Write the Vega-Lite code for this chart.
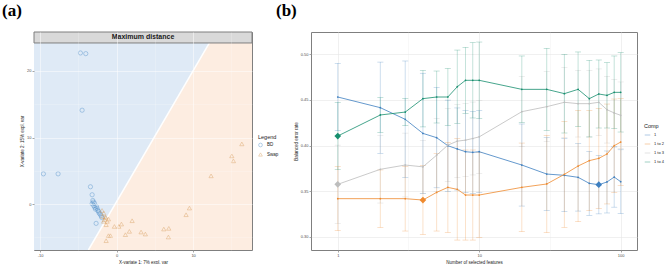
{
  "$schema": "https://vega.github.io/schema/vega-lite/v6.json",
  "padding": {"left": 1, "top": 1, "right": 0, "bottom": 0},
  "background": "white",
  "config": {
    "font": "Liberation Sans",
    "view": {"stroke": "#7f7f7f", "strokeWidth": 1},
    "axis": {"domain": false, "labelFontSize": 4, "titleFontSize": 4.5, "labelColor": "#4d4d4d", "titleColor": "#1a1a1a", "tickColor": "#4d4d4d", "tickSize": 2, "tickWidth": 0.5, "labelPadding": 1, "titlePadding": 2, "titleFontWeight": "normal"},
    "title": {"font": "Liberation Serif", "fontSize": 17, "fontWeight": "bold", "color": "#000000"}
  },
  "datasets": {
    "region": [
      {"y": -6.9, "xmin": -10.8, "xb": -3.69, "xmax": 17.7},
      {"y": 24.2, "xmin": -10.8, "xb": 12.13, "xmax": 17.7}
    ],
    "strip": [
      {"label": "Maximum distance", "x1": -10.8, "x2": 17.7, "y1": 24.2, "y2": 25.85, "ymid": 25.03}
    ],
    "pts": [
      {"x": -4.73, "y": 22.7, "group": "BD"},
      {"x": -4.03, "y": 22.6, "group": "BD"},
      {"x": -4.51, "y": 14.1, "group": "BD"},
      {"x": -9.57, "y": 4.54, "group": "BD"},
      {"x": -7.65, "y": 4.54, "group": "BD"},
      {"x": -3.42, "y": 2.6, "group": "BD"},
      {"x": -3.2, "y": 1.4, "group": "BD"},
      {"x": -3.11, "y": 0.54, "group": "BD"},
      {"x": -3.2, "y": 0.05, "group": "BD"},
      {"x": -2.9, "y": 0.15, "group": "BD"},
      {"x": -2.98, "y": -0.25, "group": "BD"},
      {"x": -2.64, "y": -0.35, "group": "BD"},
      {"x": -2.77, "y": -0.75, "group": "BD"},
      {"x": -2.46, "y": -0.96, "group": "BD"},
      {"x": -2.29, "y": -1.35, "group": "BD"},
      {"x": -2.03, "y": -1.75, "group": "BD"},
      {"x": -2.68, "y": -2.9, "group": "BD"},
      {"x": -3.05, "y": 0.3, "group": "BD"},
      {"x": -2.85, "y": -0.5, "group": "BD"},
      {"x": -2.55, "y": -0.65, "group": "BD"},
      {"x": -2.35, "y": -1.1, "group": "BD"},
      {"x": -2.15, "y": -1.5, "group": "BD"},
      {"x": -1.95, "y": -2.0, "group": "BD"},
      {"x": 16.37, "y": 9.04, "group": "Swap"},
      {"x": 15.06, "y": 7.24, "group": "Swap"},
      {"x": 15.27, "y": 6.49, "group": "Swap"},
      {"x": 12.35, "y": 4.24, "group": "Swap"},
      {"x": 9.52, "y": -0.6, "group": "Swap"},
      {"x": 9.08, "y": -1.6, "group": "Swap"},
      {"x": 6.82, "y": -3.65, "group": "Swap"},
      {"x": 6.17, "y": -3.75, "group": "Swap"},
      {"x": 6.77, "y": -4.95, "group": "Swap"},
      {"x": 3.2, "y": -4.2, "group": "Swap"},
      {"x": 3.76, "y": -4.5, "group": "Swap"},
      {"x": 2.03, "y": -2.5, "group": "Swap"},
      {"x": 1.67, "y": -4.1, "group": "Swap"},
      {"x": 1.15, "y": -4.6, "group": "Swap"},
      {"x": 0.63, "y": -3.0, "group": "Swap"},
      {"x": 0.29, "y": -3.36, "group": "Swap"},
      {"x": -0.29, "y": -3.36, "group": "Swap"},
      {"x": -1.07, "y": -4.75, "group": "Swap"},
      {"x": -1.37, "y": -5.5, "group": "Swap"},
      {"x": -0.81, "y": -4.75, "group": "Swap"},
      {"x": -1.9, "y": -0.96, "group": "Swap"},
      {"x": -1.67, "y": -1.35, "group": "Swap"},
      {"x": -1.8, "y": -1.86, "group": "Swap"},
      {"x": -1.5, "y": -1.95, "group": "Swap"},
      {"x": -1.6, "y": -2.35, "group": "Swap"},
      {"x": -1.24, "y": -2.6, "group": "Swap"},
      {"x": -1.37, "y": -3.1, "group": "Swap"},
      {"x": -1.07, "y": -2.25, "group": "Swap"},
      {"x": -1.4, "y": -2.0, "group": "Swap"},
      {"x": -1.7, "y": -2.6, "group": "Swap"}
    ],
    "perf": [
      {"comp": "1", "features": 1, "mean": 0.4532, "sd": 0.037},
      {"comp": "1", "features": 2, "mean": 0.4415, "sd": 0.050},
      {"comp": "1", "features": 3, "mean": 0.4287, "sd": 0.064},
      {"comp": "1", "features": 4, "mean": 0.4133, "sd": 0.066},
      {"comp": "1", "features": 5, "mean": 0.4086, "sd": 0.055},
      {"comp": "1", "features": 6, "mean": 0.3998, "sd": 0.050},
      {"comp": "1", "features": 7, "mean": 0.3962, "sd": 0.045},
      {"comp": "1", "features": 8, "mean": 0.3932, "sd": 0.045},
      {"comp": "1", "features": 9, "mean": 0.3925, "sd": 0.045},
      {"comp": "1", "features": 10, "mean": 0.3932, "sd": 0.045},
      {"comp": "1", "features": 20, "mean": 0.3786, "sd": 0.045},
      {"comp": "1", "features": 30, "mean": 0.3687, "sd": 0.040},
      {"comp": "1", "features": 40, "mean": 0.3673, "sd": 0.040},
      {"comp": "1", "features": 50, "mean": 0.3651, "sd": 0.037},
      {"comp": "1", "features": 60, "mean": 0.3585, "sd": 0.035},
      {"comp": "1", "features": 70, "mean": 0.3570, "sd": 0.032},
      {"comp": "1", "features": 80, "mean": 0.3600, "sd": 0.034},
      {"comp": "1", "features": 90, "mean": 0.3654, "sd": 0.033},
      {"comp": "1", "features": 100, "mean": 0.3603, "sd": 0.035},
      {"comp": "1 to 2", "features": 1, "mean": 0.3417, "sd": 0.0351},
      {"comp": "1 to 2", "features": 2, "mean": 0.3417, "sd": 0.0315},
      {"comp": "1 to 2", "features": 3, "mean": 0.3417, "sd": 0.0355},
      {"comp": "1 to 2", "features": 4, "mean": 0.3402, "sd": 0.0377},
      {"comp": "1 to 2", "features": 5, "mean": 0.3486, "sd": 0.0424},
      {"comp": "1 to 2", "features": 6, "mean": 0.3541, "sd": 0.0494},
      {"comp": "1 to 2", "features": 7, "mean": 0.3519, "sd": 0.0556},
      {"comp": "1 to 2", "features": 8, "mean": 0.3457, "sd": 0.0494},
      {"comp": "1 to 2", "features": 9, "mean": 0.3457, "sd": 0.0494},
      {"comp": "1 to 2", "features": 10, "mean": 0.3457, "sd": 0.0464},
      {"comp": "1 to 2", "features": 20, "mean": 0.3541, "sd": 0.0486},
      {"comp": "1 to 2", "features": 30, "mean": 0.3578, "sd": 0.0534},
      {"comp": "1 to 2", "features": 40, "mean": 0.3684, "sd": 0.0581},
      {"comp": "1 to 2", "features": 50, "mean": 0.3775, "sd": 0.0611},
      {"comp": "1 to 2", "features": 60, "mean": 0.3834, "sd": 0.0548},
      {"comp": "1 to 2", "features": 70, "mean": 0.3859, "sd": 0.0548},
      {"comp": "1 to 2", "features": 80, "mean": 0.3907, "sd": 0.0548},
      {"comp": "1 to 2", "features": 90, "mean": 0.3998, "sd": 0.0512},
      {"comp": "1 to 2", "features": 100, "mean": 0.4038, "sd": 0.0475},
      {"comp": "1 to 3", "features": 1, "mean": 0.3574, "sd": 0.043},
      {"comp": "1 to 3", "features": 2, "mean": 0.3739, "sd": 0.037},
      {"comp": "1 to 3", "features": 3, "mean": 0.3786, "sd": 0.035},
      {"comp": "1 to 3", "features": 4, "mean": 0.3766, "sd": 0.029},
      {"comp": "1 to 3", "features": 5, "mean": 0.3894, "sd": 0.040},
      {"comp": "1 to 3", "features": 6, "mean": 0.4004, "sd": 0.040},
      {"comp": "1 to 3", "features": 7, "mean": 0.4048, "sd": 0.040},
      {"comp": "1 to 3", "features": 8, "mean": 0.4059, "sd": 0.040},
      {"comp": "1 to 3", "features": 9, "mean": 0.4077, "sd": 0.040},
      {"comp": "1 to 3", "features": 10, "mean": 0.4095, "sd": 0.040},
      {"comp": "1 to 3", "features": 20, "mean": 0.4371, "sd": 0.0384},
      {"comp": "1 to 3", "features": 30, "mean": 0.4426, "sd": 0.0384},
      {"comp": "1 to 3", "features": 40, "mean": 0.4474, "sd": 0.0384},
      {"comp": "1 to 3", "features": 50, "mean": 0.4459, "sd": 0.0366},
      {"comp": "1 to 3", "features": 60, "mean": 0.4459, "sd": 0.0366},
      {"comp": "1 to 3", "features": 70, "mean": 0.4474, "sd": 0.0366},
      {"comp": "1 to 3", "features": 80, "mean": 0.4393, "sd": 0.0366},
      {"comp": "1 to 3", "features": 90, "mean": 0.4357, "sd": 0.0366},
      {"comp": "1 to 3", "features": 100, "mean": 0.4331, "sd": 0.0366},
      {"comp": "1 to 4", "features": 1, "mean": 0.4104, "sd": 0.037},
      {"comp": "1 to 4", "features": 2, "mean": 0.4335, "sd": 0.019},
      {"comp": "1 to 4", "features": 3, "mean": 0.4367, "sd": 0.015},
      {"comp": "1 to 4", "features": 4, "mean": 0.4514, "sd": 0.031},
      {"comp": "1 to 4", "features": 5, "mean": 0.4532, "sd": 0.0285},
      {"comp": "1 to 4", "features": 6, "mean": 0.4532, "sd": 0.0314},
      {"comp": "1 to 4", "features": 7, "mean": 0.4645, "sd": 0.0402},
      {"comp": "1 to 4", "features": 8, "mean": 0.4715, "sd": 0.0362},
      {"comp": "1 to 4", "features": 9, "mean": 0.4715, "sd": 0.0413},
      {"comp": "1 to 4", "features": 10, "mean": 0.4715, "sd": 0.0420},
      {"comp": "1 to 4", "features": 20, "mean": 0.4616, "sd": 0.0366},
      {"comp": "1 to 4", "features": 30, "mean": 0.4616, "sd": 0.0450},
      {"comp": "1 to 4", "features": 40, "mean": 0.4569, "sd": 0.0431},
      {"comp": "1 to 4", "features": 50, "mean": 0.4616, "sd": 0.0410},
      {"comp": "1 to 4", "features": 60, "mean": 0.4514, "sd": 0.0420},
      {"comp": "1 to 4", "features": 70, "mean": 0.4565, "sd": 0.0373},
      {"comp": "1 to 4", "features": 80, "mean": 0.4550, "sd": 0.0358},
      {"comp": "1 to 4", "features": 90, "mean": 0.4583, "sd": 0.0399},
      {"comp": "1 to 4", "features": 100, "mean": 0.4583, "sd": 0.0435}
    ],
    "opt": [
      {"comp": "1", "features": 70, "mean": 0.3570},
      {"comp": "1 to 2", "features": 4, "mean": 0.3402},
      {"comp": "1 to 3", "features": 1, "mean": 0.3574},
      {"comp": "1 to 4", "features": 1, "mean": 0.4104}
    ]
  },
  "bounds": "flush",
  "spacing": 59,
  "resolve": {"scale": {"color": "independent", "shape": "independent"}, "legend": {"color": "independent", "shape": "independent"}},
  "hconcat": [
    {
      "title": {"text": "(a)", "anchor": "start", "frame": "group", "dx": -32, "offset": 12},
      "width": 218,
      "height": 218,
      "layer": [
        {
          "data": {"name": "region"},
          "mark": {"type": "area", "orient": "horizontal", "color": "#dfeaf6", "clip": true},
          "encoding": {
            "y": {"field": "y", "type": "quantitative", "scale": {"domain": [-6.9, 25.85], "nice": false, "zero": false},
              "axis": {"title": "X-variate 2: 15% expl. var", "values": [-5, 0, 5, 10, 15, 20], "zindex": 1,
                "labelExpr": "datum.value % 10 == 0 ? '' + datum.value : ''",
                "tickOpacity": {"condition": {"test": "datum.value % 10 == 0", "value": 1}, "value": 0},
                "grid": true, "gridColor": "#ffffff",
                "gridOpacity": {"condition": {"test": "datum.value % 10 == 0", "value": 0.7}, "value": 0.5},
                "gridWidth": {"condition": {"test": "datum.value % 10 == 0", "value": 0.7}, "value": 0.4}}},
            "x": {"field": "xmin", "type": "quantitative", "scale": {"domain": [-10.8, 17.7], "nice": false, "zero": false},
              "axis": {"title": "X-variate 1: 7% expl. var", "values": [-10, -5, 0, 5, 10, 15], "zindex": 1,
                "labelExpr": "datum.value % 10 == 0 ? '' + datum.value : ''",
                "tickOpacity": {"condition": {"test": "datum.value % 10 == 0", "value": 1}, "value": 0},
                "grid": true, "gridColor": "#ffffff",
                "gridOpacity": {"condition": {"test": "datum.value % 10 == 0", "value": 0.7}, "value": 0.5},
                "gridWidth": {"condition": {"test": "datum.value % 10 == 0", "value": 0.7}, "value": 0.4}}},
            "x2": {"field": "xb"}
          }
        },
        {
          "data": {"name": "region"},
          "mark": {"type": "area", "orient": "horizontal", "color": "#fdede1", "clip": true},
          "encoding": {
            "y": {"field": "y", "type": "quantitative"},
            "x": {"field": "xb", "type": "quantitative"},
            "x2": {"field": "xmax"}
          }
        },
        {
          "data": {"name": "region"},
          "mark": {"type": "line", "color": "#ffffff", "strokeWidth": 1.5, "clip": true},
          "encoding": {
            "y": {"field": "y", "type": "quantitative"},
            "x": {"field": "xb", "type": "quantitative"}
          }
        },
        {
          "data": {"name": "pts"},
          "mark": {"type": "point", "filled": false, "size": 18, "strokeWidth": 0.6, "clip": true},
          "encoding": {
            "x": {"field": "x", "type": "quantitative"},
            "y": {"field": "y", "type": "quantitative"},
            "color": {"field": "group", "type": "nominal", "scale": {"domain": ["BD", "Swap"], "range": ["#4f8fc9", "#d9a060"]},
              "legend": {"title": "Legend", "orient": "none", "legendX": 224, "legendY": 103, "titleFontSize": 5.5, "titleFontWeight": "normal", "titleColor": "#1a1a1a", "labelFontSize": 4.5, "labelColor": "#1a1a1a", "symbolSize": 14, "symbolStrokeWidth": 0.6, "rowPadding": 2.5, "titlePadding": 2, "labelOffset": 4}},
            "shape": {"field": "group", "type": "nominal", "scale": {"domain": ["BD", "Swap"], "range": ["circle", "triangle-up"]},
              "legend": {"title": "Legend", "orient": "none", "legendX": 224, "legendY": 103, "titleFontSize": 5.5, "titleFontWeight": "normal", "titleColor": "#1a1a1a", "labelFontSize": 4.5, "labelColor": "#1a1a1a", "symbolSize": 14, "symbolStrokeWidth": 0.6, "rowPadding": 2.5, "titlePadding": 2, "labelOffset": 4}}
          }
        },
        {
          "data": {"name": "strip"},
          "mark": {"type": "rect", "color": "#d9d9d9", "stroke": "#7f7f7f", "strokeWidth": 1},
          "encoding": {
            "x": {"field": "x1", "type": "quantitative"},
            "x2": {"field": "x2"},
            "y": {"field": "y1", "type": "quantitative"},
            "y2": {"field": "y2"}
          }
        },
        {
          "data": {"name": "strip"},
          "mark": {"type": "text", "fontWeight": "bold", "fontSize": 7, "color": "#1a1a1a", "baseline": "middle"},
          "encoding": {
            "y": {"field": "ymid", "type": "quantitative"},
            "text": {"field": "label", "type": "nominal"}
          }
        }
      ]
    },
    {
      "title": {"text": "(b)", "anchor": "start", "frame": "group", "dx": -35, "offset": 12},
      "width": 326,
      "height": 218,
      "layer": [
        {
          "data": {"name": "perf"},
          "mark": {"type": "errorbar", "ticks": {"size": 6, "thickness": 0.5}, "thickness": 0.5, "opacity": 0.5},
          "encoding": {
            "x": {"field": "features", "type": "quantitative", "scale": {"type": "log", "domain": [0.647, 130.4], "nice": false},
              "axis": {"title": "Number of selected features", "values": [1, 3.1623, 10, 31.623, 100],
                "labelExpr": "(datum.value == 1 || datum.value == 10 || datum.value == 100) ? '' + datum.value : ''",
                "tickOpacity": {"condition": {"test": "datum.value == 1 || datum.value == 10 || datum.value == 100", "value": 1}, "value": 0},
                "grid": true, "gridColor": "#e6e6e6",
                "gridWidth": {"condition": {"test": "datum.value == 1 || datum.value == 10 || datum.value == 100", "value": 0.6}, "value": 0.3}}},
            "y": {"field": "mean", "type": "quantitative", "scale": {"domain": [0.2854, 0.5245], "nice": false, "zero": false},
              "axis": {"title": "Balanced error rate", "values": [0.3, 0.325, 0.35, 0.375, 0.4, 0.425, 0.45, 0.475, 0.5],
                "labelExpr": "abs(datum.value*20 - round(datum.value*20)) < 0.001 ? format(datum.value, '.2f') : ''",
                "tickOpacity": {"condition": {"test": "abs(datum.value*20 - round(datum.value*20)) < 0.001", "value": 1}, "value": 0},
                "grid": true, "gridColor": "#e6e6e6",
                "gridWidth": {"condition": {"test": "abs(datum.value*20 - round(datum.value*20)) < 0.001", "value": 0.6}, "value": 0.3}}},
            "yError": {"field": "sd"},
            "color": {"field": "comp", "type": "nominal", "scale": {"domain": ["1", "1 to 2", "1 to 3", "1 to 4"], "range": ["#3d7fc0", "#ef8a2e", "#bdbdbd", "#168e6e"]},
              "legend": {"title": "Comp", "orient": "none", "legendX": 333, "legendY": 92, "titleFontSize": 5.5, "titleFontWeight": "normal", "titleColor": "#1a1a1a", "labelFontSize": 4, "labelColor": "#1a1a1a", "symbolType": "stroke", "symbolSize": 30, "symbolStrokeWidth": 0.8, "rowPadding": 3, "titlePadding": 2, "labelOffset": 3}}
          }
        },
        {
          "data": {"name": "perf"},
          "mark": {"type": "line", "strokeWidth": 0.8, "point": {"size": 3, "filled": true}},
          "encoding": {
            "x": {"field": "features", "type": "quantitative"},
            "y": {"field": "mean", "type": "quantitative"},
            "color": {"field": "comp", "type": "nominal"}
          }
        },
        {
          "data": {"name": "opt"},
          "mark": {"type": "point", "shape": "diamond", "filled": true, "size": 45, "opacity": 1},
          "encoding": {
            "x": {"field": "features", "type": "quantitative"},
            "y": {"field": "mean", "type": "quantitative"},
            "color": {"field": "comp", "type": "nominal"}
          }
        }
      ]
    }
  ]
}
